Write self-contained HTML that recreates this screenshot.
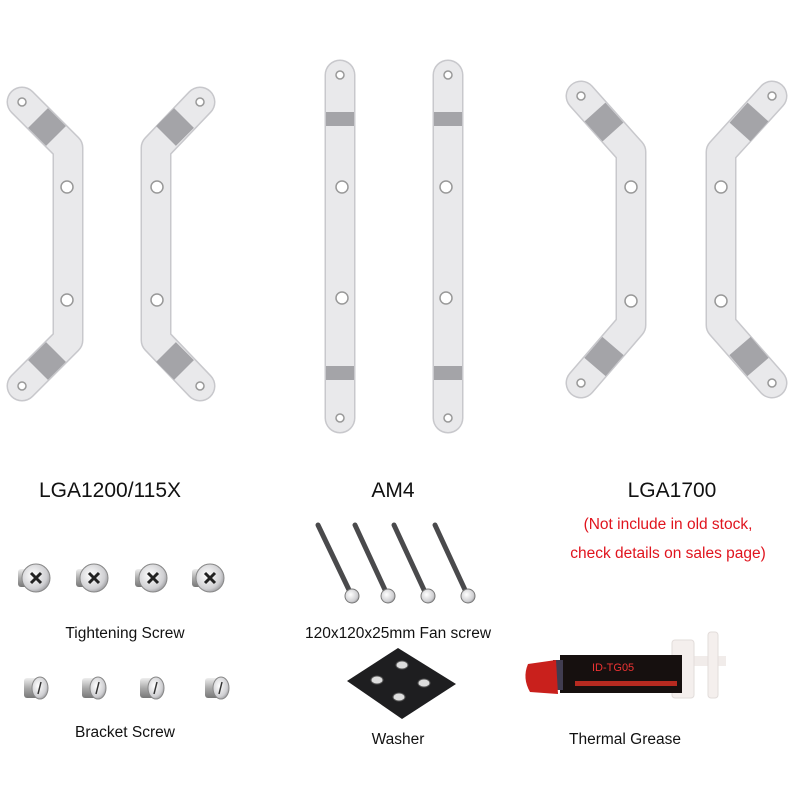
<!DOCTYPE html>
<html><head><meta charset="utf-8"><style>
html,body{margin:0;padding:0;background:#fff;}
svg{display:block;}
text{font-family:"Liberation Sans",sans-serif;}
</style></head><body>
<svg width="800" height="800" viewBox="0 0 800 800" xmlns="http://www.w3.org/2000/svg">
<defs>
<radialGradient id="scr" cx="0.4" cy="0.4" r="0.7"><stop offset="0" stop-color="#fff"/><stop offset="0.7" stop-color="#cfcfd2"/><stop offset="1" stop-color="#8a8a8e"/></radialGradient>
<linearGradient id="shank" x1="0" y1="0" x2="0" y2="1"><stop offset="0" stop-color="#eee"/><stop offset="0.5" stop-color="#aaa"/><stop offset="1" stop-color="#777"/></linearGradient>
</defs>
<g fill="none" stroke-linejoin="round" stroke-linecap="round">
<g stroke="#c8c8cc" stroke-width="31">
<polyline points="22,102 68,148 68,340 22,386"/>
<polyline points="200,102 156,148 156,340 200,386"/>
<polyline points="340,75 340,418"/>
<polyline points="448,75 448,418"/>
<polyline points="581,96 631,152 631,325 581,383"/>
<polyline points="772,96 721,152 721,325 772,383"/>
</g>
<g stroke="#e9e9eb" stroke-width="28">
<polyline points="22,102 68,148 68,340 22,386"/>
<polyline points="200,102 156,148 156,340 200,386"/>
<polyline points="340,75 340,418"/>
<polyline points="448,75 448,418"/>
<polyline points="581,96 631,152 631,325 581,383"/>
<polyline points="772,96 721,152 721,325 772,383"/>
</g>
</g>
<!-- bands -->
<g stroke="#a4a4a8" stroke-width="28" stroke-linecap="butt">
<line x1="38" y1="118" x2="56" y2="136"/>
<line x1="184" y1="118" x2="166" y2="136"/>
<line x1="38" y1="370" x2="56" y2="352"/>
<line x1="184" y1="370" x2="166" y2="352"/>
<line x1="340" y1="112" x2="340" y2="126"/>
<line x1="448" y1="112" x2="448" y2="126"/>
<line x1="340" y1="366" x2="340" y2="380"/>
<line x1="448" y1="366" x2="448" y2="380"/>
<line x1="595" y1="112" x2="613" y2="132"/>
<line x1="758" y1="112" x2="740" y2="132"/>
<line x1="595" y1="367" x2="613" y2="346"/>
<line x1="758" y1="367" x2="740" y2="346"/>
</g>
<g fill="#fff" stroke="#999" stroke-width="1.5">
<circle cx="22" cy="102" r="4"/><circle cx="22" cy="386" r="4"/><circle cx="67" cy="187" r="6"/><circle cx="67" cy="300" r="6"/>
<circle cx="200" cy="102" r="4"/><circle cx="200" cy="386" r="4"/><circle cx="157" cy="187" r="6"/><circle cx="157" cy="300" r="6"/>
<circle cx="340" cy="75" r="4"/><circle cx="340" cy="418" r="4"/><circle cx="342" cy="187" r="6"/><circle cx="342" cy="298" r="6"/>
<circle cx="448" cy="75" r="4"/><circle cx="448" cy="418" r="4"/><circle cx="446" cy="187" r="6"/><circle cx="446" cy="298" r="6"/>
<circle cx="581" cy="96" r="4"/><circle cx="581" cy="383" r="4"/><circle cx="631" cy="187" r="6"/><circle cx="631" cy="301" r="6"/>
<circle cx="772" cy="96" r="4"/><circle cx="772" cy="383" r="4"/><circle cx="721" cy="187" r="6"/><circle cx="721" cy="301" r="6"/>
</g>
<g font-size="21" fill="#111" text-anchor="middle">
<text x="110" y="497">LGA1200/115X</text>
<text x="393" y="497">AM4</text>
<text x="672" y="497">LGA1700</text>
</g>
<g font-size="15.5" fill="#e0141e" text-anchor="middle">
<text x="668" y="529">(Not include in old stock,</text>
<text x="668" y="558">check details on sales page)</text>
</g>
<!-- tightening screws -->
<g id="ts">
<g transform="translate(36,578)"><rect x="-18" y="-9" width="18" height="18" rx="3" fill="url(#shank)"/><circle r="14" fill="url(#scr)" stroke="#888"/><path d="M-5,-5 L5,5 M5,-5 L-5,5" stroke="#222" stroke-width="3"/></g>
<g transform="translate(94,578)"><rect x="-18" y="-9" width="18" height="18" rx="3" fill="url(#shank)"/><circle r="14" fill="url(#scr)" stroke="#888"/><path d="M-5,-5 L5,5 M5,-5 L-5,5" stroke="#222" stroke-width="3"/></g>
<g transform="translate(153,578)"><rect x="-18" y="-9" width="18" height="18" rx="3" fill="url(#shank)"/><circle r="14" fill="url(#scr)" stroke="#888"/><path d="M-5,-5 L5,5 M5,-5 L-5,5" stroke="#222" stroke-width="3"/></g>
<g transform="translate(210,578)"><rect x="-18" y="-9" width="18" height="18" rx="3" fill="url(#shank)"/><circle r="14" fill="url(#scr)" stroke="#888"/><path d="M-5,-5 L5,5 M5,-5 L-5,5" stroke="#222" stroke-width="3"/></g>
</g>
<!-- bracket screws -->
<g>
<g transform="translate(40,688)"><rect x="-16" y="-10" width="16" height="20" rx="3" fill="url(#shank)"/><ellipse rx="8" ry="11" fill="url(#scr)" stroke="#888"/><path d="M1,-6 L-2,6" stroke="#333" stroke-width="1.5"/></g>
<g transform="translate(98,688)"><rect x="-16" y="-10" width="16" height="20" rx="3" fill="url(#shank)"/><ellipse rx="8" ry="11" fill="url(#scr)" stroke="#888"/><path d="M1,-6 L-2,6" stroke="#333" stroke-width="1.5"/></g>
<g transform="translate(156,688)"><rect x="-16" y="-10" width="16" height="20" rx="3" fill="url(#shank)"/><ellipse rx="8" ry="11" fill="url(#scr)" stroke="#888"/><path d="M1,-6 L-2,6" stroke="#333" stroke-width="1.5"/></g>
<g transform="translate(221,688)"><rect x="-16" y="-10" width="16" height="20" rx="3" fill="url(#shank)"/><ellipse rx="8" ry="11" fill="url(#scr)" stroke="#888"/><path d="M1,-6 L-2,6" stroke="#333" stroke-width="1.5"/></g>
</g>
<!-- fan screws -->
<g stroke="#4a4a4c" stroke-width="5" stroke-linecap="round">
<line x1="318" y1="525" x2="350" y2="592"/>
<line x1="355" y1="525" x2="386" y2="592"/>
<line x1="394" y1="525" x2="425" y2="592"/>
<line x1="435" y1="525" x2="466" y2="592"/>
</g>
<g fill="url(#scr)" stroke="#777"><circle cx="352" cy="596" r="7"/><circle cx="388" cy="596" r="7"/><circle cx="428" cy="596" r="7"/><circle cx="468" cy="596" r="7"/></g>
<!-- washer -->
<polygon points="398,648 456,684 402,719 347,681" fill="#1e1e20"/>
<g fill="#ddd" stroke="#555"><ellipse cx="402" cy="665" rx="6" ry="4"/><ellipse cx="377" cy="680" rx="6" ry="4"/><ellipse cx="424" cy="683" rx="6" ry="4"/><ellipse cx="399" cy="697" rx="6" ry="4"/></g>
<!-- thermal grease -->
<g>
<rect x="686" y="656" width="40" height="10" fill="#f1ecea"/>
<rect x="708" y="632" width="10" height="66" rx="3" fill="#f4efed" stroke="#e2dcda"/>
<rect x="672" y="640" width="22" height="58" rx="3" fill="#f4efed" stroke="#e2dcda"/>
<rect x="560" y="655" width="122" height="38" fill="#16100f"/>
<rect x="553" y="660" width="10" height="30" fill="#403c50"/>
<path d="M528,664 L556,660 L558,694 L530,692 Q522,678 528,664 Z" fill="#c9201c"/>
<text x="592" y="671" font-size="11" fill="#e33">ID-TG05</text>
<rect x="575" y="681" width="102" height="5" fill="#b62a20"/>
</g>
<g font-size="15.5" fill="#111" text-anchor="middle">
<text x="125" y="638">Tightening Screw</text>
<text x="398" y="638">120x120x25mm Fan screw</text>
<text x="125" y="737">Bracket Screw</text>
<text x="398" y="744">Washer</text>
<text x="625" y="744">Thermal Grease</text>
</g>
</svg>
</body></html>
